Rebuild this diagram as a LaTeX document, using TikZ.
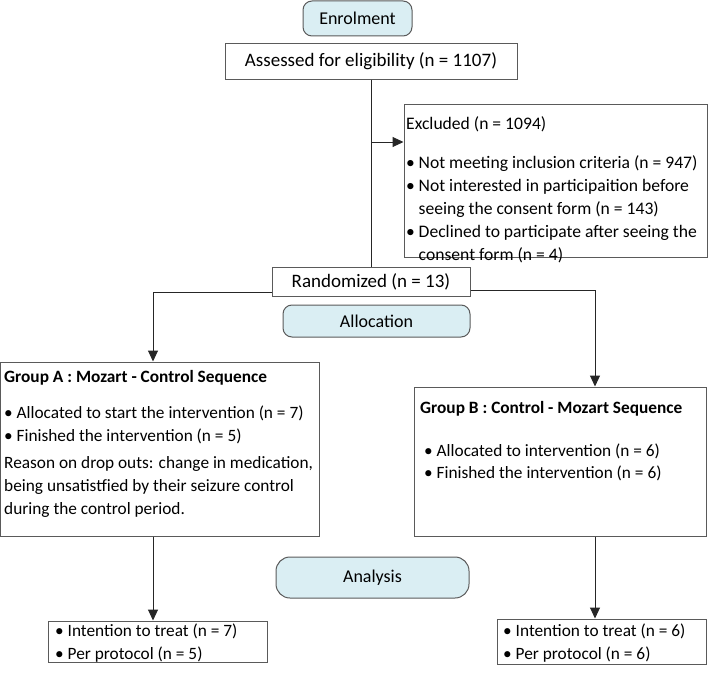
\documentclass[tikz,border=0pt]{standalone}
\usepackage{fontspec}
\setmainfont{Carlito}
\usetikzlibrary{arrows.meta,calc}
\definecolor{phase}{HTML}{DAEEF3}
\definecolor{edge}{HTML}{5A5A5A}
\tikzset{
  box/.style={draw=edge, line width=1pt, fill=white, inner sep=0pt},
  phasebox/.style={draw=edge, line width=1pt, fill=phase, rounded corners=9pt, inner sep=0pt, font=\fontsize{18}{21}\selectfont},
  bigtxt/.style={font=\fontsize{19}{22}\selectfont},
  bodytxt/.style={font=\fontsize{17.3}{22.7}\selectfont, align=left, anchor=north west, inner sep=0pt},
  extxtstyle/.style={font=\fontsize{17.6}{22.8}\selectfont, align=left, anchor=north west, inner sep=0pt},
  arr/.style={line width=1pt, draw=black!85, -{Triangle[width=10pt,length=11pt]}},
  ln/.style={line width=1pt, draw=black!85}
}
\newcommand{\bl}{\makebox[12.5pt][l]{•}}
\newcommand{\blx}{\makebox[12.5pt][l]{•}}
\begin{document}
\begin{tikzpicture}[x=1pt,y=-1pt]
\useasboundingbox (0,0) rectangle (709,677);
% nodes
\node[phasebox, minimum width=109pt, minimum height=35pt] (enr) at (357.5,18.5) {Enrolment};
\node[box, bigtxt, minimum width=292pt, minimum height=35pt] (ass) at (371,61.5) {Assessed for eligibility (n = 1107)};
\node[box, minimum width=303pt, minimum height=153pt] (ex) at (555.5,180.5) {};
\node[extxtstyle] (extxt) at (406,116) {Excluded (n = 1094)\\[17pt]
\blx Not meeting inclusion criteria (n = 947)\\
\blx Not interested in participaition before\\
\hspace*{12.5pt}seeing the consent form (n = 143)\\
\blx Declined to participate after seeing the\\
\hspace*{12.5pt}consent form (n = 4)};
\node[box, bigtxt, minimum width=198pt, minimum height=29pt] (rand) at (371,282) {Randomized (n = 13)};
\node[phasebox, minimum width=187pt, minimum height=32pt] (alloc) at (376.5,321) {Allocation};
\node[box, minimum width=318.5pt, minimum height=174pt] (ga) at (159.75,449) {};
\node[bodytxt] (gatxt) at (4,370) {\textbf{Group A : Mozart - Control Sequence}\\[13.5pt]
\bl Allocated to start the intervention (n = 7)\\
\bl Finished the intervention (n = 5)\\[5pt]
Reason on drop outs: change in medication,\\
being unsatistfied by their seizure control\\
during the control period.};
\node[box, minimum width=292pt, minimum height=149pt] (gb) at (560,461.5) {};
\node[bodytxt] (gbtxt) at (420,401) {\textbf{Group B : Control - Mozart Sequence}\\[20pt]
\hspace*{4pt}\bl Allocated to intervention (n = 6)\\
\hspace*{4pt}\bl Finished the intervention (n = 6)};
\node[phasebox, minimum width=193pt, minimum height=41pt, rounded corners=14pt] (anal) at (372.5,577.5) {Analysis};
\node[box, minimum width=219pt, minimum height=41pt] (aa) at (157.5,641.5) {};
\node[bodytxt] (aatxt) at (55,624) {\bl Intention to treat (n = 7)\\
\bl Per protocol (n = 5)};
\node[box, minimum width=209pt, minimum height=45pt] (ab) at (601.5,641.5) {};
\node[bodytxt] (abtxt) at (503,624) {\bl Intention to treat (n = 6)\\
\bl Per protocol (n = 6)};
% coordinates
\coordinate (exin) at ($(ex.north west)!0.25!(ex.south west)$);
\coordinate (xA) at (153,0);
\coordinate (xB) at (595,0);
% connectors
\draw[ln] (ass.south) -- (rand.north);
\draw[arr] (ass.south |- exin) -- (exin);
\draw[arr] ([yshift=-10pt]rand.west) -| (ga.north -| xA);
\draw[arr] ([yshift=-8pt]rand.east) -| (gb.north -| xB);
\draw[arr] (ga.south -| xA) -- (aa.north -| xA);
\draw[arr] (gb.south -| xB) -- (ab.north -| xB);
\end{tikzpicture}
\end{document}
